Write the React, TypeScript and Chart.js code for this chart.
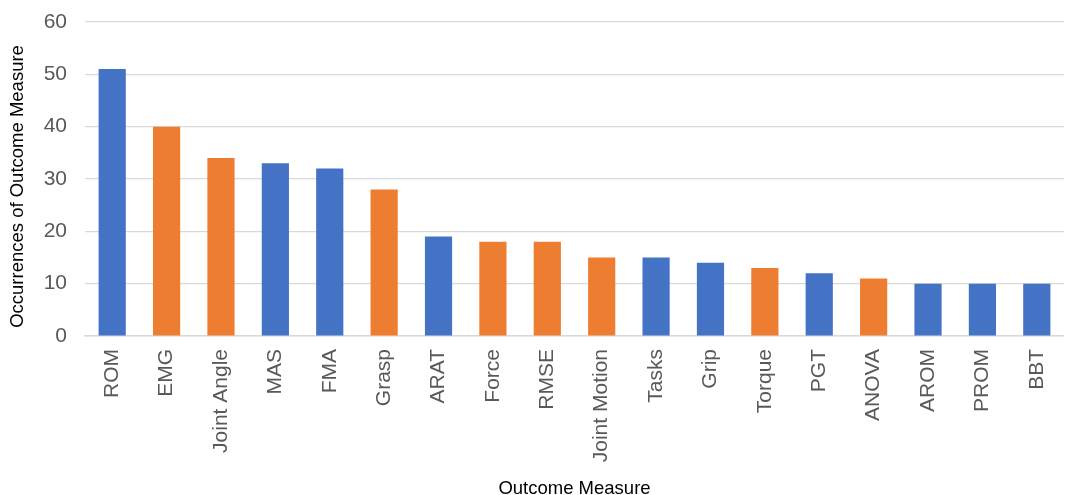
import React, { useEffect, useRef } from "react";
import { Chart, registerables } from "chart.js";

Chart.register(...registerables);

const categories = [
  "ROM", "EMG", "Joint Angle", "MAS", "FMA", "Grasp", "ARAT", "Force", "RMSE",
  "Joint Motion", "Tasks", "Grip", "Torque", "PGT", "ANOVA", "AROM", "PROM", "BBT",
];
const occurrences = [51, 40, 34, 33, 32, 28, 19, 18, 18, 15, 15, 14, 13, 12, 11, 10, 10, 10];
const groups = ["b", "o", "o", "b", "b", "o", "b", "o", "o", "o", "b", "b", "o", "b", "o", "b", "b", "b"];
const yTicks = [0, 10, 20, 30, 40, 50, 60];
const yTitle = "Occurrences of Outcome Measure";
const xTitle = "Outcome Measure";

const BLUE = "#4472C4";
const ORANGE = "#ED7D31";
const FONT = "'Liberation Sans', Arial, sans-serif";

const yTitlePlugin = {
  id: "yTitlePlugin",
  afterDraw(chart: any) {
    const { ctx, chartArea } = chart;
    ctx.save();
    ctx.translate(18, (chartArea.top + chartArea.bottom) / 2 + 7.5);
    ctx.rotate(-Math.PI / 2);
    ctx.font = `18.5px ${FONT}`;
    ctx.fillStyle = "#000000";
    ctx.textAlign = "center";
    ctx.textBaseline = "middle";
    ctx.fillText(yTitle, 0, 0);
    ctx.restore();
  },
};

export default function App() {
  const ref = useRef<HTMLCanvasElement | null>(null);

  useEffect(() => {
    if (!ref.current) return;
    const chart = new Chart(ref.current, {
      type: "bar",
      data: {
        labels: categories,
        datasets: [
          {
            label: "Occurrences",
            data: occurrences,
            backgroundColor: groups.map((g) => (g === "b" ? BLUE : ORANGE)),
            barPercentage: 0.5,
            categoryPercentage: 1,
          },
        ],
      },
      plugins: [yTitlePlugin],
      options: {
        animation: false,
        responsive: false,
        devicePixelRatio: 1,
        layout: { padding: { top: 22, right: 0, bottom: 0, left: 0 } },
        plugins: {
          legend: { display: false },
          tooltip: { enabled: false },
        },
        scales: {
          x: {
            grid: { display: false, drawTicks: false },
            border: { display: true, color: "#d9d9d9", width: 1.5 },
            ticks: {
              autoSkip: false,
              minRotation: 90,
              maxRotation: 90,
              padding: 13,
              color: "#595959",
              font: { family: FONT, size: 21 },
            },
            title: {
              display: true,
              text: xTitle,
              color: "#000000",
              font: { family: FONT, size: 18.5 },
              padding: { top: 0, bottom: 0 },
            },
            afterFit: (scale: any) => {
              scale.height = 164;
            },
          },
          y: {
            min: 0,
            max: 60,
            afterBuildTicks: (scale: any) => {
              scale.ticks = yTicks.map((v) => ({ value: v }));
            },
            grid: {
              color: "#d9d9d9",
              lineWidth: 1.2,
              drawTicks: true,
              tickLength: 13,
              tickColor: "rgba(0,0,0,0)",
            },
            border: { display: false },
            ticks: {
              padding: 5,
              color: "#595959",
              font: { family: FONT, size: 21 },
            },
            title: { display: false },
            afterFit: (scale: any) => {
              scale.width = 85;
            },
          },
        },
      },
    });
    return () => chart.destroy();
  }, []);

  return (
    <div
      style={{
        position: "absolute",
        left: 0,
        top: 0,
        width: 1065,
        height: 495,
        overflow: "hidden",
        background: "#ffffff",
      }}
    >
      <canvas ref={ref} width={1075} height={500} style={{ display: "block" }} />
    </div>
  );
}
